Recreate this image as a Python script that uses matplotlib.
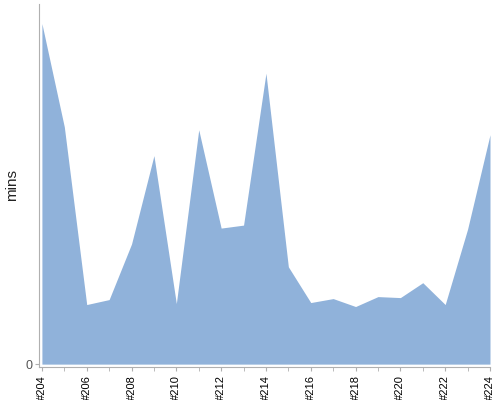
import matplotlib
matplotlib.use('Agg')
import matplotlib.pyplot as plt

# build numbers and their durations (arbitrary units)
BUILDS = list(range(204, 225))
MINS = [343, 239, 60, 65, 121, 210, 61, 236, 137, 140, 293,
        98, 62, 66, 58, 68, 67, 82, 60, 136, 231]
TICK_BUILDS = BUILDS[::2]
TICK_LABELS = ['#%d' % b for b in TICK_BUILDS]

AREA_COLOR = '#90b2da'
AXIS_COLOR = '#b0b0b0'

plt.rcParams['font.family'] = ['Liberation Sans', 'DejaVu Sans']


def main() -> None:
    fig = plt.figure(figsize=(5, 4), dpi=100)
    ax = fig.add_axes([0.078, 0.083, 0.902, 0.907])

    ax.fill_between(BUILDS, MINS, 0, color=AREA_COLOR, linewidth=0)
    ax.set_xlim(BUILDS[0] - 0.13, BUILDS[-1])
    ax.set_ylim(-2.7, 362.7)

    ax.set_xticks(BUILDS, minor=True)
    ax.set_xticks(TICK_BUILDS)
    ax.set_xticklabels(TICK_LABELS, rotation=90, fontsize=8, color='black')
    ax.tick_params(axis='x', which='both', length=3, color=AXIS_COLOR, pad=3)

    ax.set_yticks([0])
    ax.set_yticklabels(['0'], fontsize=9, color='#555555')
    ax.tick_params(axis='y', length=3, color=AXIS_COLOR, pad=2)
    ax.set_ylabel('mins', fontsize=11, color='#222222')
    ax.yaxis.set_label_coords(-0.045, 0.5)

    for side in ('top', 'right'):
        ax.spines[side].set_visible(False)
    for side in ('left', 'bottom'):
        ax.spines[side].set_color(AXIS_COLOR)

    fig.savefig('out.png', dpi=100)
    plt.close(fig)


if __name__ == '__main__':
    main()
